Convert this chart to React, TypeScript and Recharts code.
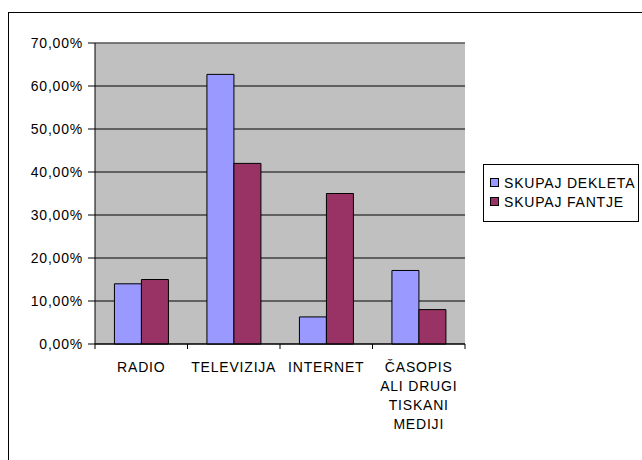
import React from 'react';
import { BarChart, Bar, XAxis, YAxis, CartesianGrid, Legend, ReferenceLine } from 'recharts';

const categories = ['RADIO', 'TELEVIZIJA', 'INTERNET', 'ČASOPIS ALI DRUGI TISKANI MEDIJI'];
const categoryLines = [['RADIO'], ['TELEVIZIJA'], ['INTERNET'], ['ČASOPIS', 'ALI DRUGI', 'TISKANI', 'MEDIJI']];
const dekleta = [14, 62.7, 6.3, 17.1];
const fantje = [15, 42, 35, 8];
const yTicks = [0, 10, 20, 30, 40, 50, 60, 70];
const seriesNames = ['SKUPAJ DEKLETA', 'SKUPAJ FANTJE'];
const seriesColors = ['#9999FF', '#993366'];

const data = categories.map((c, i) => ({ name: c, d: dekleta[i], f: fantje[i] }));

const FONT = '"Liberation Sans", Arial, sans-serif';
const FS = 14;
const LS = 0.8;

const CatTick = (props: any) => {
  const { x, y, payload, index } = props;
  const half = payload && typeof payload.offset === 'number' && payload.offset > 0 ? payload.offset : 46.25;
  const lines = categoryLines[index] ?? [String(payload.value)];
  return (
    <g>
      <line x1={x - half} x2={x - half} y1={y} y2={y + 5} stroke="#000" />
      {index === categories.length - 1 && <line x1={x + half} x2={x + half} y1={y} y2={y + 5} stroke="#000" />}
      <text x={x} y={y} textAnchor="middle" fontSize={FS} fontFamily={FONT} fill="#000" letterSpacing={LS}>
        {lines.map((l, i) => (
          <tspan key={i} x={x} dy={i === 0 ? 28 : 19}>
            {l}
          </tspan>
        ))}
      </text>
    </g>
  );
};

const YTick = (props: any) => {
  const { x, y, payload } = props;
  const v = Number(payload.value);
  return (
    <text x={x} y={y} dy="0.355em" textAnchor="end" fontSize={FS} fontFamily={FONT} fill="#000" letterSpacing={LS}>
      {v.toFixed(2).replace('.', ',') + '%'}
    </text>
  );
};

const LegendContent = () => (
  <div style={{ fontFamily: FONT, fontSize: FS, letterSpacing: LS, color: '#000' }}>
    {seriesNames.map((n, i) => (
      <div key={n} style={{ display: 'flex', alignItems: 'center', height: 19, marginLeft: 6, whiteSpace: 'nowrap' }}>
        <span
          style={{
            display: 'inline-block',
            width: 7,
            height: 7,
            background: seriesColors[i],
            border: '1px solid #000',
            marginRight: 5,
            flex: 'none',
          }}
        />
        <span>{n}</span>
      </div>
    ))}
  </div>
);

export default function App() {
  return (
    <div style={{ position: 'absolute', left: 0, top: 0, width: 642, height: 460, overflow: 'hidden', background: '#fff' }}>
      <div
        style={{
          position: 'absolute',
          left: 8,
          top: 12,
          width: 700,
          height: 500,
          border: '1px solid #000',
          boxSizing: 'border-box',
        }}
      />
      <div style={{ position: 'absolute', left: 0, top: 0 }}>
        <BarChart
          width={642}
          height={460}
          data={data}
          margin={{ top: 43, right: 177, bottom: 16, left: 0 }}
          barCategoryGap="21%"
          barGap={0}
        >
          <CartesianGrid vertical={false} stroke="#000" fill="#C0C0C0" fillOpacity={1} />
          <XAxis
            dataKey="name"
            height={100}
            tickSize={0}
            tickMargin={0}
            tickLine={false}
            axisLine={{ stroke: '#000' }}
            interval={0}
            tick={<CatTick />}
          />
          <YAxis
            width={95}
            domain={[0, 70]}
            ticks={yTicks}
            interval={0}
            tickSize={7}
            tickMargin={5}
            axisLine={{ stroke: '#000' }}
            tickLine={{ stroke: '#000' }}
            tick={<YTick />}
          />
          <YAxis
            yAxisId="r"
            orientation="right"
            width={0}
            domain={[0, 70]}
            tick={false}
            tickLine={false}
            axisLine={{ stroke: '#808080' }}
          />
          <ReferenceLine y={70} stroke="#808080" />
          <Legend
            layout="vertical"
            align="center"
            verticalAlign="middle"
            content={<LegendContent />}
            wrapperStyle={{
              position: 'absolute',
              left: 483,
              top: 164,
              width: 156,
              height: 58,
              border: '1px solid #000',
              boxSizing: 'border-box',
              paddingTop: 8,
              background: '#fff',
            }}
          />
          <Bar dataKey="d" name={seriesNames[0]} fill={seriesColors[0]} stroke="#000" strokeWidth={1} isAnimationActive={false} />
          <Bar dataKey="f" name={seriesNames[1]} fill={seriesColors[1]} stroke="#000" strokeWidth={1} isAnimationActive={false} />
        </BarChart>
      </div>
    </div>
  );
}
